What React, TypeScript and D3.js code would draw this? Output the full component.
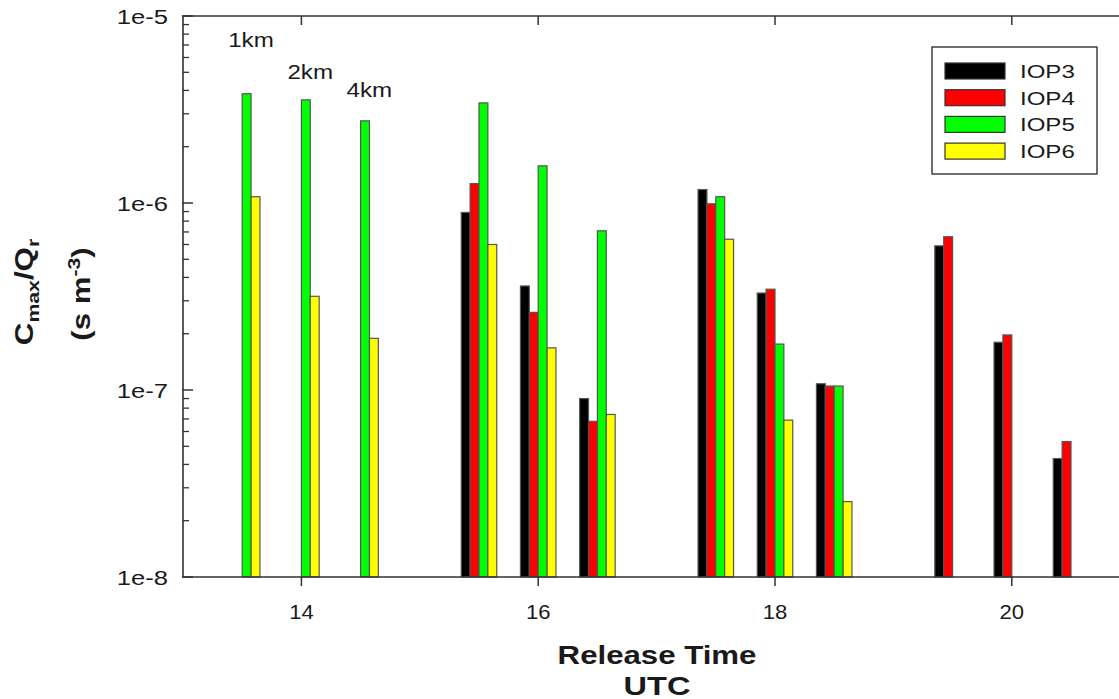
import * as d3 from 'd3';
import React, { useEffect, useRef } from 'react';

// release times (UTC hours) of each group of bars
const releaseTimes = [13.5, 14, 14.5, 15.5, 16, 16.5, 17.5, 18, 18.5, 19.5, 20, 20.5];

// Cmax/Qr (s m-3) per IOP, null where no bar is drawn
const iop3 = [null, null, null, 8.9e-7, 3.6e-7, 9.0e-8, 1.18e-6, 3.3e-7, 1.08e-7, 5.9e-7, 1.8e-7, 4.3e-8];
const iop4 = [null, null, null, 1.27e-6, 2.6e-7, 6.8e-8, 9.9e-7, 3.46e-7, 1.05e-7, 6.6e-7, 1.97e-7, 5.3e-8];
const iop5 = [3.84e-6, 3.56e-6, 2.75e-6, 3.43e-6, 1.58e-6, 7.1e-7, 1.08e-6, 1.76e-7, 1.05e-7, null, null, null];
const iop6 = [1.08e-6, 3.17e-7, 1.89e-7, 6.0e-7, 1.68e-7, 7.4e-8, 6.4e-7, 6.9e-8, 2.53e-8, null, null, null];

const seriesNames = ['IOP3', 'IOP4', 'IOP5', 'IOP6'];
const seriesColors = ['#000000', '#ff0000', '#00ff00', '#ffff00'];

const xTicks = [14, 16, 18, 20];
const yTicks = [1e-8, 1e-7, 1e-6, 1e-5];
const yTickLabels = ['1e-8', '1e-7', '1e-6', '1e-5'];

const distanceLabels = ['1km', '2km', '4km'];
const distanceTimes = [13.5, 14, 14.5];

const W = 1119;
const H = 699;
const FONT = 'Liberation Sans, Arial, sans-serif';

export default function App() {
  const svgRef = useRef<SVGSVGElement>(null);

  useEffect(() => {
    const svg = d3.select(svgRef.current);
    svg.selectAll('*').remove();

    const left = 183, top = 16, bottom = 577;
    const x = d3.scaleLinear().domain([13, 21]).range([left, left + 8 * 118.4]);
    const y = d3.scaleLog().domain([1e-8, 1e-5]).range([bottom, top]);
    const barW = x(13.075) - x(13);

    // stretched text helper (the source fonts are wider than Arial)
    const txt = (g: any, px: number, py: number, s: string, size: number, opts: any = {}) => {
      const sx = opts.sx ?? 1.25;
      const rot = opts.rotate ? ` rotate(${opts.rotate})` : '';
      return g.append('text')
        .attr('transform', `translate(${px},${py})${rot} scale(${sx},1)`)
        .attr('font-family', FONT)
        .attr('font-size', size)
        .attr('font-weight', opts.bold ? 'bold' : 'normal')
        .attr('text-anchor', opts.anchor ?? 'start')
        .attr('fill', '#1a1a1a')
        .text(s);
    };

    const series = [iop3, iop4, iop5, iop6];
    const bars = svg.append('g');
    series.forEach((vals, si) => {
      const data = releaseTimes.map((t, i) => ({ t, v: vals[i] })).filter(d => d.v != null) as { t: number; v: number }[];
      bars.selectAll(`.b${si}`)
        .data(data)
        .enter()
        .append('rect')
        .attr('class', `b${si}`)
        .attr('x', d => x(d.t) + (si - 2) * barW)
        .attr('y', d => y(d.v))
        .attr('width', barW)
        .attr('height', d => bottom - y(d.v))
        .attr('fill', seriesColors[si])
        .attr('stroke', '#555')
        .attr('stroke-width', 1.2);
    });

    // frame: left, top, bottom lines (right side is off the picture)
    const axisColor = '#333';
    svg.append('path')
      .attr('d', `M${W},${top}H${left}V${bottom}H${W}`)
      .attr('fill', 'none')
      .attr('stroke', axisColor)
      .attr('stroke-width', 1.6);

    // x ticks
    xTicks.forEach(t => {
      svg.append('line').attr('x1', x(t)).attr('x2', x(t)).attr('y1', bottom).attr('y2', bottom + 9)
        .attr('stroke', axisColor).attr('stroke-width', 1.5);
      svg.append('line').attr('x1', x(t)).attr('x2', x(t)).attr('y1', top).attr('y2', top + 9)
        .attr('stroke', axisColor).attr('stroke-width', 1.5);
      txt(svg, x(t), 619, String(t), 21, { anchor: 'middle', sx: 1.05 });
    });

    // y ticks with minor ticks
    for (let e = -8; e < -5; e++) {
      for (let m = 2; m <= 9; m++) {
        const v = m * Math.pow(10, e);
        svg.append('line').attr('x1', left).attr('x2', left + 6).attr('y1', y(v)).attr('y2', y(v))
          .attr('stroke', axisColor).attr('stroke-width', 1.3);
      }
    }
    yTicks.forEach((v, i) => {
      svg.append('line').attr('x1', left - 1).attr('x2', left + 10).attr('y1', y(v)).attr('y2', y(v))
        .attr('stroke', axisColor).attr('stroke-width', 1.5);
      txt(svg, 168, y(v) + 8, yTickLabels[i], 21, { anchor: 'end', sx: 1.22 });
    });

    // distance labels
    const kmY = [47, 79, 97];
    distanceLabels.forEach((s, i) => {
      txt(svg, x(distanceTimes[i]) - 14, kmY[i], s, 21, { sx: 1.15 });
    });

    // axis titles
    txt(svg, 657, 664, 'Release Time', 26, { bold: true, anchor: 'middle', sx: 1.2 });
    txt(svg, 657, 695, 'UTC', 26, { bold: true, anchor: 'middle', sx: 1.25 });

    const yl1 = txt(svg, 33, 292, '', 25, { bold: true, anchor: 'middle', rotate: -90, sx: 1.25 });
    yl1.append('tspan').text('C');
    yl1.append('tspan').attr('font-size', 17).attr('dy', 6).text('max');
    yl1.append('tspan').attr('dy', -6).text('/Q');
    yl1.append('tspan').attr('font-size', 17).attr('dy', 6).text('r');

    const yl2 = txt(svg, 90, 294, '', 25, { bold: true, anchor: 'middle', rotate: -90, sx: 1.25 });
    yl2.append('tspan').text('(s m');
    yl2.append('tspan').attr('font-size', 17).attr('dy', -10).text('-3');
    yl2.append('tspan').attr('dy', 10).text(')');

    // legend
    const lg = svg.append('g');
    lg.append('rect').attr('x', 932).attr('y', 47).attr('width', 165).attr('height', 127)
      .attr('fill', 'white').attr('stroke', '#333').attr('stroke-width', 1.4);
    seriesNames.forEach((name, i) => {
      const ry = 63 + i * 26.7;
      lg.append('rect').attr('x', 945).attr('y', ry).attr('width', 60).attr('height', 16)
        .attr('fill', seriesColors[i]).attr('stroke', '#333').attr('stroke-width', 1.2);
      txt(lg, 1020, ry + 15, name, 18.5, { sx: 1.3 });
    });
  }, []);

  return (
    <div style={{ position: 'absolute', left: 0, top: 0 }}>
      <svg ref={svgRef} width={W} height={H} style={{ display: 'block', background: 'white' }} />
    </div>
  );
}
